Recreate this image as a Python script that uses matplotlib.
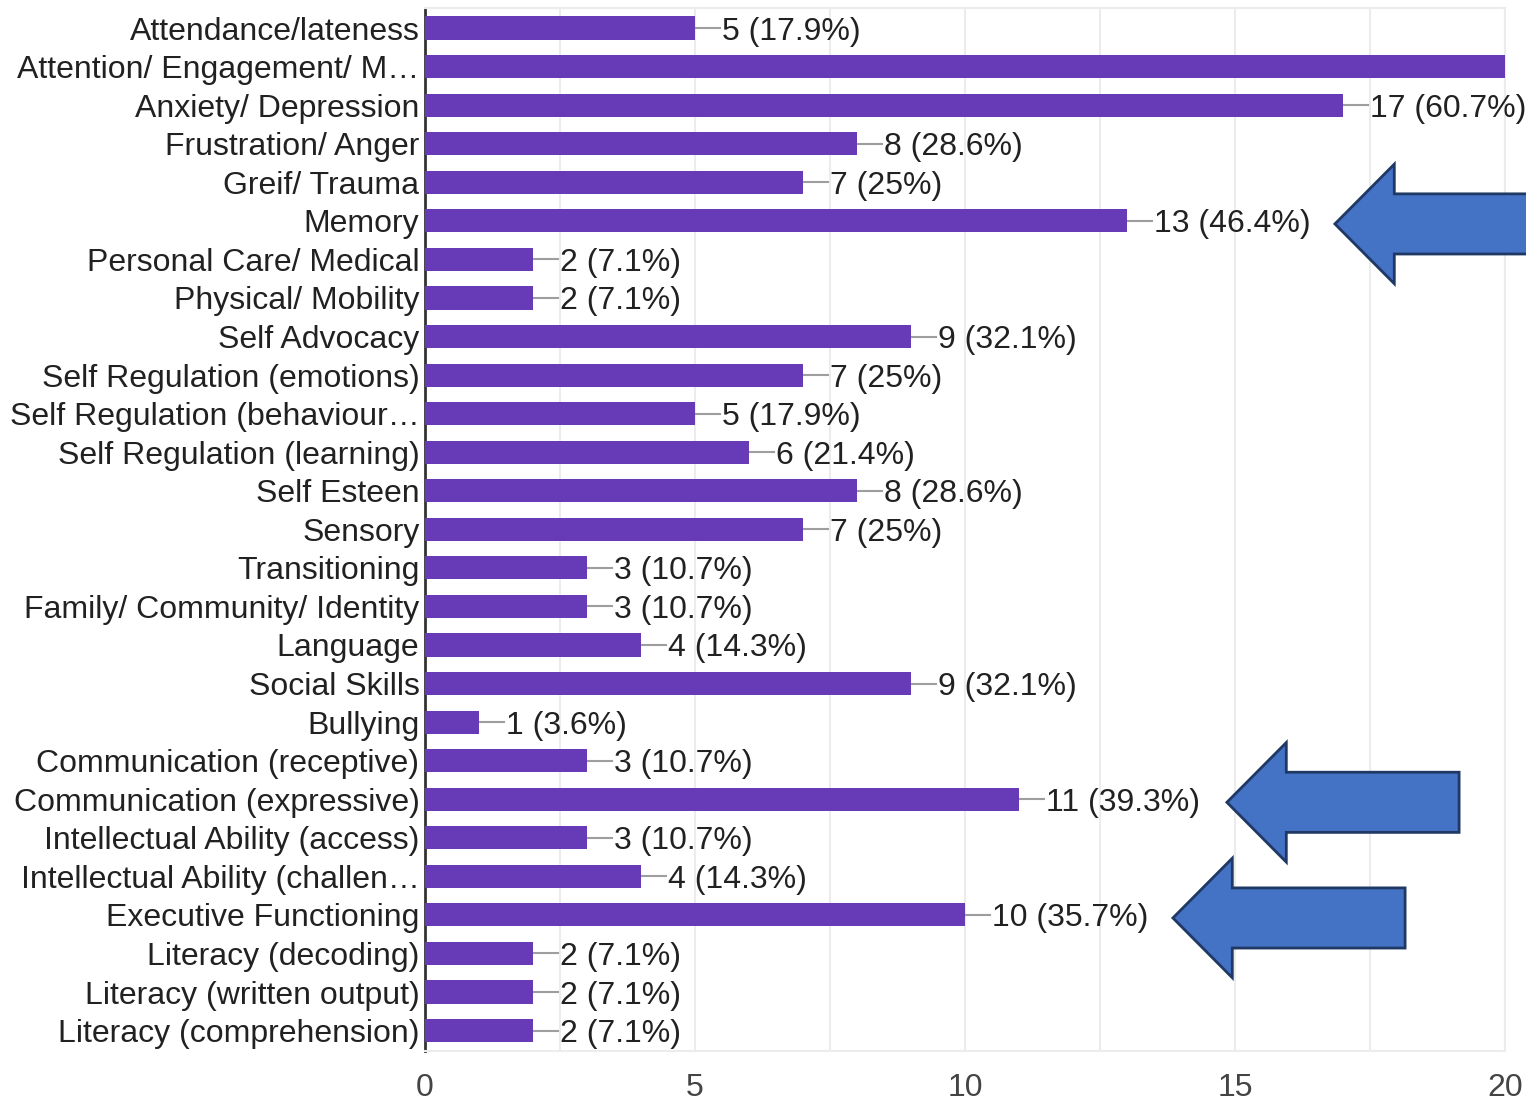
import matplotlib.pyplot as plt
from matplotlib.patches import Polygon
from matplotlib.ticker import MultipleLocator

plt.rcParams['font.family'] = ['Liberation Sans', 'DejaVu Sans']

categories = ['Attendance/lateness', 'Attention/ Engagement/ M\u2026', 'Anxiety/ Depression',
              'Frustration/ Anger', 'Greif/ Trauma', 'Memory', 'Personal Care/ Medical',
              'Physical/ Mobility', 'Self Advocacy', 'Self Regulation (emotions)',
              'Self Regulation (behaviour\u2026', 'Self Regulation (learning)', 'Self Esteen',
              'Sensory', 'Transitioning', 'Family/ Community/ Identity', 'Language',
              'Social Skills', 'Bullying', 'Communication (receptive)',
              'Communication (expressive)', 'Intellectual Ability (access)',
              'Intellectual Ability (challen\u2026', 'Executive Functioning',
              'Literacy (decoding)', 'Literacy (written output)', 'Literacy (comprehension)']
counts = [5, 20, 17, 8, 7, 13, 2, 2, 9, 7, 5, 6, 8, 7, 3, 3, 4, 9, 1, 3, 11, 3, 4, 10, 2, 2, 2]
n_responses = 28
highlighted = ['Memory', 'Communication (expressive)', 'Executive Functioning']
xmax = 20

fig = plt.figure(figsize=(15.26, 11.04), dpi=100)
ax = fig.add_axes([425/1526, 1-1051/1104, 1080/1526, 1043/1104])

ypos = list(range(len(categories)))
ax.barh(ypos, counts, height=0.6, color='#673ab7', zorder=3)

for y, c in zip(ypos, counts):
    pct = round(c / n_responses * 100, 1)
    ax.plot([c, c + 0.47], [y, y], color='#9e9e9e', lw=1.5, zorder=2)
    if c < xmax:  # the label of the full-width bar runs off the chart
        ax.text(c + 0.5, y, f'{c} ({pct:g}%)', va='center_baseline', ha='left',
                fontsize=23, color='#212121', clip_on=False)

ax.set_xlim(0, xmax)
ax.set_ylim(len(categories) - 0.47, -0.52)
ax.set_yticks(ypos)
ax.set_yticklabels(categories, fontsize=23, color='#212121')
ax.xaxis.set_major_locator(MultipleLocator(5))
ax.xaxis.set_minor_locator(MultipleLocator(2.5))
ax.tick_params(axis='x', which='both', length=0, labelsize=23, labelcolor='#444444', pad=16)
ax.tick_params(axis='y', length=0, pad=4)
ax.grid(axis='x', which='both', color='#ececec', lw=1.5, zorder=0)

for side in ['top', 'right', 'bottom']:
    ax.spines[side].set_color('#ececec')
    ax.spines[side].set_linewidth(1.5)
ax.spines['left'].set_color('#333333')
ax.spines['left'].set_linewidth(2)

# block arrows pointing at the highlighted bars
for name in highlighted:
    i = categories.index(name) + 0.08
    tip = counts[categories.index(name)] + 3.85
    head = tip + 1.1
    end = tip + 4.3
    pts = [(tip, i), (head, i - 1.55), (head, i - 0.78), (end, i - 0.78),
           (end, i + 0.78), (head, i + 0.78), (head, i + 1.55)]
    ax.add_patch(Polygon(pts, closed=True, facecolor='#4472c4', edgecolor='#1f3864',
                         lw=2, zorder=5, clip_on=False))

fig.savefig('out.png', dpi=100)
